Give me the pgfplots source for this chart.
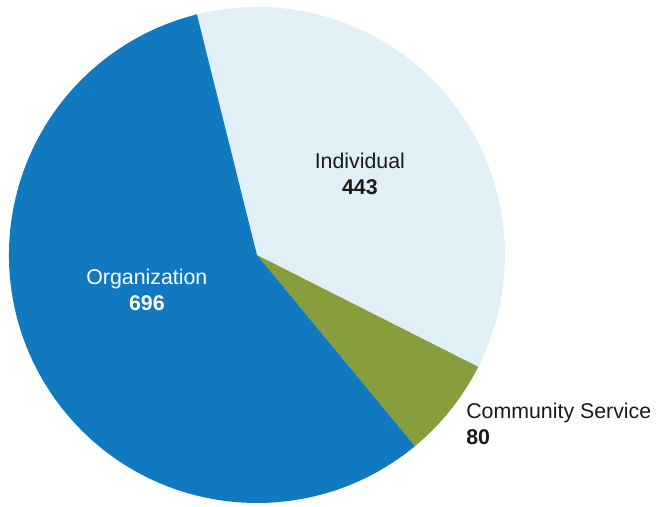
\documentclass[border=0pt]{standalone}
\usepackage{pgfplots}
\usepackage{pgfplotstable}
\pgfplotsset{compat=1.18}
\usepackage{fontspec}
\setmainfont{Liberation Sans}

\definecolor{indiv}{HTML}{E1EFF7}
\definecolor{comm}{HTML}{889D3B}
\definecolor{org}{HTML}{1179C0}
\definecolor{txt}{HTML}{1A1A1A}

% slice values, drawn clockwise from the top
\pgfplotstableread{
label value
Individual 443
Community 80
Organization 696
}\piedata

\begin{document}
\begin{tikzpicture}
\pgfplotstablegetelem{0}{value}\of\piedata \let\va\pgfplotsretval
\pgfplotstablegetelem{1}{value}\of\piedata \let\vb\pgfplotsretval
\pgfplotstablegetelem{2}{value}\of\piedata \let\vc\pgfplotsretval
\pgfmathsetmacro{\total}{\va+\vb+\vc}
\pgfmathsetmacro{\aS}{104}
\pgfmathsetmacro{\aA}{\aS-\va/\total*360}
\pgfmathsetmacro{\aB}{\aA-\vb/\total*360}
\pgfmathsetmacro{\aC}{\aB-\vc/\total*360}
\def\R{186pt}
\begin{axis}[
  name=pie,
  scale only axis,
  width=493.5pt, height=379.5pt,
  xmin=-1.036, xmax=1.617,
  ymin=-1.012, ymax=1.028,
  hide axis, clip=false,
]
  \fill[indiv] (axis cs:0,0) -- ++(\aS:\R) arc[start angle=\aS, end angle=\aA, radius=\R] -- cycle;
  \fill[comm]  (axis cs:0,0) -- ++(\aA:\R) arc[start angle=\aA, end angle=\aB, radius=\R] -- cycle;
  \fill[org]   (axis cs:0,0) -- ++(\aB:\R) arc[start angle=\aB, end angle=\aC, radius=\R] -- cycle;

  \node[align=center, text=txt, font=\fontsize{16}{19}\selectfont]
    at (axis cs:0.415,0.327) {Individual\\\textbf{443}};
  \node[align=center, text=white, font=\fontsize{16}{19}\selectfont]
    at (axis cs:-0.444,-0.141) {Organization\\\textbf{696}};
  \node[align=left, anchor=west, inner sep=0pt, text=txt, font=\fontsize{16}{19}\selectfont]
    at (axis cs:0.843,-0.681) {Community Service\\\textbf{80}};
\end{axis}
% arcs put their control points in the bounding box; keep only the axis area
\pgfresetboundingbox
\useasboundingbox (pie.south west) rectangle (pie.north east);
\end{tikzpicture}
\end{document}
